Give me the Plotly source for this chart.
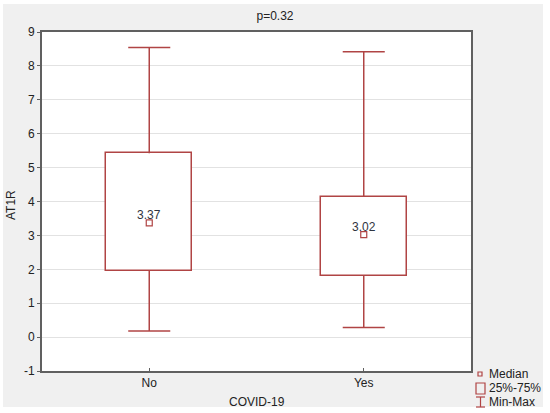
import plotly.graph_objects as go

categories = ["No", "Yes"]
q1 = [1.96, 1.80]
median = [3.37, 3.02]
q3 = [5.42, 4.14]
vmin = [0.18, 0.28]
vmax = [8.54, 8.42]
median_labels = ["3.37", "3.02"]
y_ticks = [-1, 0, 1, 2, 3, 4, 5, 6, 7, 8, 9]
y_tick_labels = ["-1", "0", "1", "2", "3", "4", "5", "6", "7", "8", "9"]

RED = "#b04444"
FONT = "Arial, Liberation Sans, sans-serif"
W, H = 550, 413
L, R, T, B = 42, 471, 32, 371

xs = list(range(len(categories)))
box_w = 0.4
cap = 0.098

fig = go.Figure()

# boxes (25%-75%)
fig.add_trace(go.Bar(
    x=xs, y=[b - a for a, b in zip(q1, q3)], base=q1, width=box_w,
    marker=dict(color="white", line=dict(color=RED, width=1.5)),
    showlegend=False, hoverinfo="skip"))

# whiskers + caps
wx, wy = [], []
for i in xs:
    wx += [i, i, None, i, i, None, i - cap, i + cap, None, i - cap, i + cap, None]
    wy += [q3[i], vmax[i], None, q1[i], vmin[i], None, vmax[i], vmax[i], None, vmin[i], vmin[i], None]
fig.add_trace(go.Scatter(x=wx, y=wy, mode="lines", line=dict(color=RED, width=1.5),
                         showlegend=False, hoverinfo="skip"))

# median markers
fig.add_trace(go.Scatter(
    x=xs, y=median, mode="markers",
    marker=dict(symbol="square-open", size=6, color=RED, line=dict(width=1.2)),
    showlegend=False, hoverinfo="skip"))

def px(x):
    return (x - L) / (R - L)

def py(y):
    return (B - y) / (B - T)

WHITE_EDGE = dict(xref="paper", yref="paper", fillcolor="white", line=dict(width=0), type="rect")
shapes = [
    # thin white page edges
    dict(**WHITE_EDGE, x0=px(0), x1=px(550), y0=py(4), y1=py(0)),
    dict(**WHITE_EDGE, x0=px(0), x1=px(550), y0=py(413), y1=py(407)),
    dict(**WHITE_EDGE, x0=px(0), x1=px(3), y0=py(413), y1=py(0)),
    dict(**WHITE_EDGE, x0=px(543), x1=px(550), y0=py(413), y1=py(0)),
    # legend glyphs
    dict(type="rect", xref="paper", yref="paper", x0=px(478), x1=px(482), y0=py(376), y1=py(372),
         line=dict(color=RED, width=1.2), fillcolor="rgba(0,0,0,0)"),
    dict(type="rect", xref="paper", yref="paper", x0=px(476), x1=px(485), y0=py(394), y1=py(383),
         line=dict(color=RED, width=1.2), fillcolor="rgba(0,0,0,0)"),
    dict(type="line", xref="paper", yref="paper", x0=px(480.5), x1=px(480.5), y0=py(407), y1=py(397),
         line=dict(color=RED, width=1.2)),
    dict(type="line", xref="paper", yref="paper", x0=px(476), x1=px(485), y0=py(397), y1=py(397),
         line=dict(color=RED, width=1.2)),
    dict(type="line", xref="paper", yref="paper", x0=px(476), x1=px(485), y0=py(407), y1=py(407),
         line=dict(color=RED, width=1.2)),
]

legend_items = ["Median", "25%-75%", "Min-Max"]
legend_y = [374, 388, 402]
annotations = [
    dict(text=t, xref="paper", yref="paper", x=px(487), y=py(yy), xanchor="left", yanchor="middle",
         showarrow=False, font=dict(family=FONT, size=12, color="#222"))
    for t, yy in zip(legend_items, legend_y)
]
annotations += [
    dict(text=lab, x=xi, y=m, xref="x", yref="y", showarrow=False, xanchor="center",
         yanchor="middle", yshift=8, font=dict(family=FONT, size=12, color="#2f3440"))
    for xi, m, lab in zip(xs, median, median_labels)
]
annotations += [
    dict(text="COVID-19", xref="paper", yref="paper", x=0.5, y=py(402), xanchor="center",
         yanchor="middle", showarrow=False, font=dict(family=FONT, size=12, color="#222")),
    dict(text="AT1R", xref="paper", yref="paper", x=px(11), y=py(205), xanchor="center",
         yanchor="middle", textangle=-90, showarrow=False,
         font=dict(family=FONT, size=12, color="#222")),
]

fig.update_layout(
    width=W, height=H,
    margin=dict(l=L, r=W - R, t=T, b=H - B, pad=0, autoexpand=False),
    paper_bgcolor="#f0f0f0", plot_bgcolor="white",
    font=dict(family=FONT, size=12, color="#222"),
    title=dict(text="p=0.32", x=0.5, xref="container", xanchor="center",
               y=1 - 16 / H, yanchor="middle", font=dict(size=12, color="#222")),
    shapes=shapes, annotations=annotations, bargap=0,
)
fig.update_xaxes(
    range=[-0.5, len(categories) - 0.5], tickvals=xs, ticktext=categories, automargin=False,
    showgrid=False, zeroline=False, showline=True, linecolor="#606060", linewidth=2, mirror=True,
    ticks="inside", ticklen=3, tickcolor="#606060",
)
fig.update_yaxes(
    range=[-1, 9], tickvals=y_ticks, ticktext=y_tick_labels, automargin=False,
    showgrid=True, gridcolor="#e2e2e2", gridwidth=1, zeroline=False,
    showline=True, linecolor="#606060", linewidth=2, mirror=True,
    ticks="outside", ticklen=3, tickcolor="#606060",
)

fig.write_html("out.html", config={"displayModeBar": False},
               post_script="document.body.style.margin='0';document.body.style.overflow='hidden';")
